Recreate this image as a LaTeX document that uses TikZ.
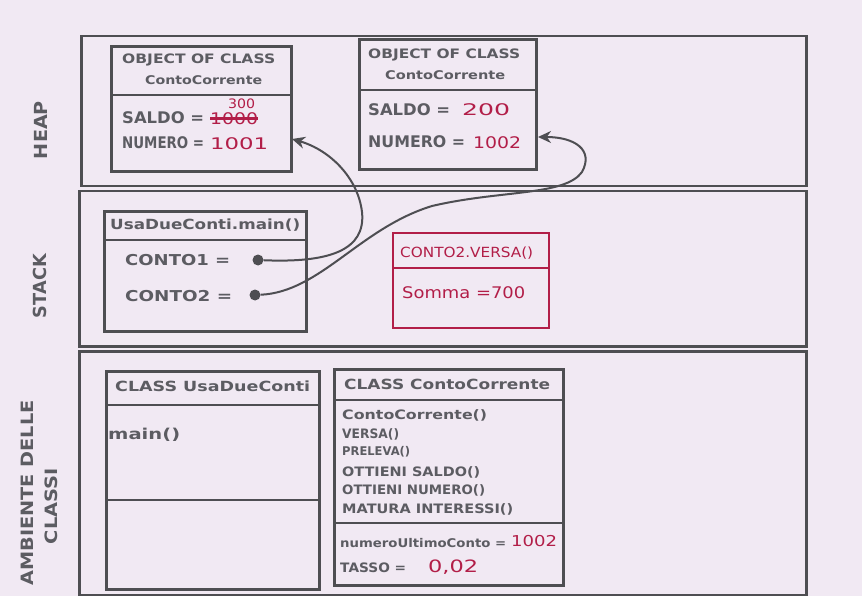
\documentclass[tikz,border=0pt]{standalone}
\usepackage{fontspec}
\setmainfont{DejaVu Sans}
\usetikzlibrary{arrows.meta}
\definecolor{paper}{RGB}{241,233,243}
\definecolor{pencil}{RGB}{78,78,82}
\definecolor{lead}{RGB}{92,92,98}
\definecolor{ink}{RGB}{178,30,72}
\newcommand\hw[2]{\resizebox{#1pt}{\height}{#2}}
\begin{document}
\begin{tikzpicture}[x=1pt,y=-1pt,
 panel/.style={draw=pencil, line width=2.5pt, inner sep=0pt, anchor=north west},
 box/.style={draw=pencil, line width=3.2pt, inner sep=0pt, anchor=north west},
 rbox/.style={draw=ink, line width=2pt, inner sep=0pt, anchor=north west},
 div/.style={draw=pencil, line width=2.8pt},
 rdiv/.style={draw=ink, line width=2pt},
 txt/.style={text=lead, inner sep=0pt, anchor=west},
 val/.style={text=ink, inner sep=0pt, anchor=west},
 side/.style={text=lead, inner sep=0pt, rotate=90},
 dot/.style={circle, fill=pencil, inner sep=0pt, minimum size=11pt},
 ptr/.style={draw=pencil, line width=2pt, -{Stealth[length=13pt,width=12pt]}}]
\useasboundingbox (0,0) rectangle (862,596);
\fill[paper] (0,0) rectangle (862,596);

% panels
\node[panel, minimum width=725pt, minimum height=150pt] (heap) at (80,35) {};
\node[panel, minimum width=727pt, minimum height=155pt] (stack) at (78,190) {};
\node[panel, minimum width=727pt, minimum height=244pt] (amb) at (78,350) {};

% side labels
\node[side, font=\fontsize{18}{18}\selectfont\bfseries] (lheap) at (41,130) {\hw{58}{HEAP}};
\node[side, font=\fontsize{18}{18}\selectfont\bfseries] (lstack) at (40,286) {\hw{64}{STACK}};
\node[side, font=\fontsize{17}{17}\selectfont\bfseries] (lamb) at (27,493) {\hw{185}{AMBIENTE DELLE}};
\node[side, font=\fontsize{17}{17}\selectfont\bfseries] (lcls) at (51,506) {\hw{76}{CLASSI}};

% object 1
\node[box, minimum width=180pt, minimum height=125pt] (o1) at (110,45) {};
\draw[div] (o1.west |- 0,95) -- (o1.east |- 0,95);
\node[txt, font=\fontsize{13}{13}\selectfont\bfseries] (o1t1) at (122,60) {\hw{153}{OBJECT OF CLASS}};
\node[txt, font=\fontsize{12}{12}\selectfont\bfseries] (o1t2) at (145,80) {\hw{117}{ContoCorrente}};
\node[txt, font=\fontsize{16}{16}\selectfont\bfseries] (o1s) at (122,118) {\hw{82}{SALDO =}};
\node[val, font=\fontsize{16}{16}\selectfont] (o1sv) at (210,119) {\hw{48}{1000}};
\draw[ink, line width=3pt] (o1sv.west) -- (o1sv.east);
\node[val, font=\fontsize{13}{13}\selectfont] (o1sn) at (228,104) {\hw{27}{300}};
\node[txt, font=\fontsize{16}{16}\selectfont\bfseries] (o1n) at (122,143) {\hw{82}{NUMERO =}};
\node[val, font=\fontsize{16}{16}\selectfont] (o1nv) at (210,144) {\hw{58}{1001}};

% object 2
\node[box, minimum width=177pt, minimum height=130pt] (o2) at (358,38) {};
\draw[div] (o2.west |- 0,90) -- (o2.east |- 0,90);
\node[txt, font=\fontsize{13}{13}\selectfont\bfseries] (o2t1) at (368,55) {\hw{152}{OBJECT OF CLASS}};
\node[txt, font=\fontsize{12}{12}\selectfont\bfseries] (o2t2) at (385,75) {\hw{120}{ContoCorrente}};
\node[txt, font=\fontsize{16}{16}\selectfont\bfseries] (o2s) at (368,110) {\hw{82}{SALDO =}};
\node[val, font=\fontsize{16}{16}\selectfont] (o2sv) at (462,110) {\hw{48}{200}};
\node[txt, font=\fontsize{16}{16}\selectfont\bfseries] (o2n) at (368,142) {\hw{97}{NUMERO =}};
\node[val, font=\fontsize{16}{16}\selectfont] (o2nv) at (473,143) {\hw{48}{1002}};

% stack frame main
\node[box, minimum width=202pt, minimum height=120pt] (fm) at (103,210) {};
\draw[div] (fm.west |- 0,240) -- (fm.east |- 0,240);
\node[txt, font=\fontsize{14}{14}\selectfont\bfseries] (fmt) at (110,225) {\hw{190}{UsaDueConti.main()}};
\node[txt, font=\fontsize{15}{15}\selectfont\bfseries] (c1) at (125,260) {\hw{105}{CONTO1 =}};
\node[txt, font=\fontsize{15}{15}\selectfont\bfseries] (c2) at (125,296) {\hw{107}{CONTO2 =}};
\node[dot] (d1) at (258,260) {};
\node[dot] (d2) at (255,295) {};

% stack frame versa
\node[rbox, minimum width=156pt, minimum height=95pt] (fv) at (392,232) {};
\draw[rdiv] (fv.west |- 0,268) -- (fv.east |- 0,268);
\node[val, font=\fontsize{14}{14}\selectfont] (fvt) at (400,253) {\hw{133}{CONTO2.VERSA()}};
\node[val, font=\fontsize{16}{16}\selectfont] (fvs) at (402,293) {\hw{123}{Somma =700}};

% pointers
\coordinate (o1tip) at (292,139);
\coordinate (o2tip) at (538,137);
\draw[ptr] (d1) .. controls (330,263) and (366,250) .. (362,212) .. controls (358,178) and (330,150) .. (o1tip);
\draw[ptr] (d2) .. controls (320,292) and (360,228) .. (432,206) .. controls (500,190) and (565,196) .. (582,172) .. controls (594,150) and (575,137) .. (o2tip);

% class UsaDueConti
\node[box, minimum width=213pt, minimum height=218pt] (k1) at (105,370) {};
\draw[div] (k1.west |- 0,405) -- (k1.east |- 0,405);
\draw[div] (k1.west |- 0,500) -- (k1.east |- 0,500);
\node[txt, font=\fontsize{14}{14}\selectfont\bfseries] (k1t) at (115,386) {\hw{195}{CLASS UsaDueConti}};
\node[txt, font=\fontsize{15}{15}\selectfont\bfseries] (k1m) at (108,435) {\hw{72}{main()}};

% class ContoCorrente
\node[box, minimum width=229pt, minimum height=216pt] (k2) at (333,368) {};
\draw[div] (k2.west |- 0,400) -- (k2.east |- 0,400);
\draw[div] (k2.west |- 0,523) -- (k2.east |- 0,523);
\node[txt, font=\fontsize{14}{14}\selectfont\bfseries] (k2t) at (344,384) {\hw{206}{CLASS ContoCorrente}};
\node[txt, font=\fontsize{13}{13}\selectfont\bfseries] (m1) at (342,415) {\hw{145}{ContoCorrente()}};
\node[txt, font=\fontsize{13}{13}\selectfont\bfseries] (m2) at (342,434) {\hw{57}{VERSA()}};
\node[txt, font=\fontsize{12}{12}\selectfont\bfseries] (m3) at (342,452) {\hw{68}{PRELEVA()}};
\node[txt, font=\fontsize{13}{13}\selectfont\bfseries] (m4) at (342,472) {\hw{138}{OTTIENI SALDO()}};
\node[txt, font=\fontsize{13}{13}\selectfont\bfseries] (m5) at (342,490) {\hw{143}{OTTIENI NUMERO()}};
\node[txt, font=\fontsize{13}{13}\selectfont\bfseries] (m6) at (342,509) {\hw{171}{MATURA INTERESSI()}};
\node[txt, font=\fontsize{12}{12}\selectfont\bfseries] (a1) at (340,543) {\hw{166}{numeroUltimoConto =}};
\node[val, font=\fontsize{15}{15}\selectfont] (a1v) at (511,541) {\hw{46}{1002}};
\node[txt, font=\fontsize{13}{13}\selectfont\bfseries] (a2) at (340,568) {\hw{66}{TASSO =}};
\node[val, font=\fontsize{17}{17}\selectfont] (a2v) at (428,567) {\hw{50}{0,02}};
\end{tikzpicture}
\end{document}
